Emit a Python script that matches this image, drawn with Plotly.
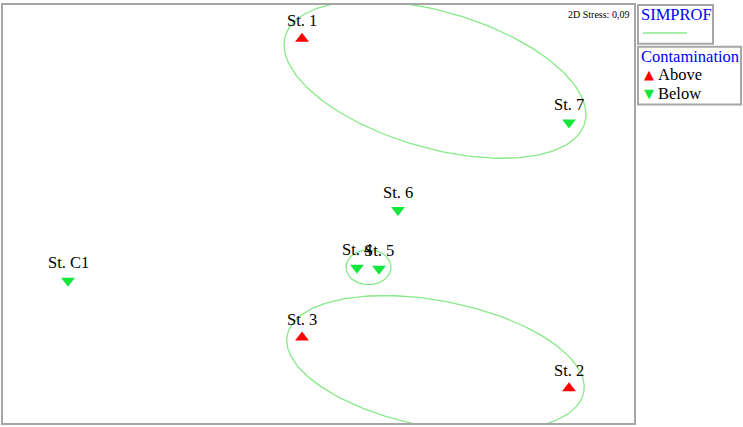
"""
nMDS ordination of stations with SIMPROF groups
"""

import numpy as np
import plotly.graph_objects as go

# nMDS coordinates
stations = ['St. 1', 'St. 2', 'St. 3', 'St. 4', 'St. 5', 'St. 6', 'St. 7', 'St. C1']
mds_x = [-0.16, 2.51, -0.16, 0.39, 0.61, 0.80, 2.51, -2.50]
mds_y = [1.76, -1.75, -1.24, -0.54, -0.55, 0.04, 0.92, -0.67]
contamination = ['Above', 'Above', 'Above', 'Below', 'Below', 'Below', 'Below', 'Below']

# SIMPROF group outlines: centre, semi-axes, rotation (deg)
group_cx = [1.17, 1.175, 0.505]
group_cy = [1.35, -1.505, -0.535]
group_a = [1.56, 1.51, 0.225]
group_b = [0.685, 0.634, 0.175]
group_angle = [-16.3, -10.95, 0.0]

stress = '0,09'

RED = '#ff0000'
GREEN = '#14e63c'
LINE_GREEN = '#86ea86'
FONT = 'Liberation Serif'


def ellipse(cx, cy, a, b, angle, n=200):
    """Outline of a rotated ellipse"""
    t = np.linspace(0, 2 * np.pi, n)
    th = np.radians(angle)
    x = cx + a * np.cos(t) * np.cos(th) - b * np.sin(t) * np.sin(th)
    y = cy + a * np.cos(t) * np.sin(th) + b * np.sin(t) * np.cos(th)
    return x, y


fig = go.Figure()

for cx, cy, a, b, ang in zip(group_cx, group_cy, group_a, group_b, group_angle):
    ex, ey = ellipse(cx, cy, a, b, ang)
    fig.add_trace(go.Scatter(x=ex, y=ey, mode='lines',
                             line=dict(color=LINE_GREEN, width=1.3),
                             hoverinfo='skip', showlegend=False))

for grp, sym, col in [('Above', 'triangle-up', RED), ('Below', 'triangle-down', GREEN)]:
    idx = [i for i, c in enumerate(contamination) if c == grp]
    fig.add_trace(go.Scatter(
        x=[mds_x[i] for i in idx], y=[mds_y[i] for i in idx],
        mode='markers', marker=dict(symbol=sym, color=col, size=12, line=dict(width=0)),
        text=[stations[i] for i in idx], showlegend=False))

# station labels above markers
for s, x, y in zip(stations, mds_x, mds_y):
    fig.add_annotation(x=x, y=y, text=s, showarrow=False, yshift=18,
                       font=dict(family=FONT, size=16.5, color='black'))

fig.add_annotation(xref='paper', yref='paper', x=0.995, y=0.995, xanchor='right', yanchor='top',
                   text=f'2D Stress: {stress}', showarrow=False,
                   font=dict(family=FONT, size=10, color='black'))

# legend boxes
box = dict(type='rect', xref='paper', yref='paper', line=dict(color='#a6a6a6', width=2),
           fillcolor='white')
fig.add_shape(**box, x0=1.0063, x1=1.1252, y0=0.907, y1=1.0)
fig.add_shape(**box, x0=1.0063, x1=1.1696, y0=0.762, y1=0.9)
fig.add_shape(type='line', xref='paper', yref='paper', x0=1.0143, x1=1.0840, y0=0.933, y1=0.933,
              line=dict(color='#a8f0a8', width=2))

legend_texts = [
    ('SIMPROF', 1.0080, 0.977, 'blue'),
    ('Contamination', 1.0080, 0.876, 'blue'),
]
for txt, x, y, col in legend_texts:
    fig.add_annotation(xref='paper', yref='paper', x=x, y=y, xanchor='left', yanchor='middle',
                       text=txt, showarrow=False, font=dict(family=FONT, size=16.5, color=col))

for lab, sym, col, y in [('Above', '▲', RED, 0.833), ('Below', '▼', GREEN, 0.788)]:
    fig.add_annotation(xref='paper', yref='paper', x=1.0125, y=y, xanchor='left', yanchor='middle',
                       text=sym, showarrow=False, font=dict(family='DejaVu Sans', size=13, color=col))
    fig.add_annotation(xref='paper', yref='paper', x=1.0345, y=y, xanchor='left', yanchor='middle',
                       text=lab, showarrow=False, font=dict(family=FONT, size=16.5, color='black'))

axis = dict(showgrid=False, zeroline=False, showticklabels=False, ticks='',
            showline=True, mirror=True, linecolor='#a6a6a6', linewidth=2)
fig.update_xaxes(range=[-3.15, 3.16], **axis)
fig.update_yaxes(range=[-2.10, 2.10], **axis)

fig.update_layout(
    width=743, height=427,
    margin=dict(l=3, r=109, t=3, b=4),
    paper_bgcolor='white', plot_bgcolor='white',
    showlegend=False,
)

fig.write_html("out.html", config={'displayModeBar': False},
               post_script="document.body.style.margin='0';")
